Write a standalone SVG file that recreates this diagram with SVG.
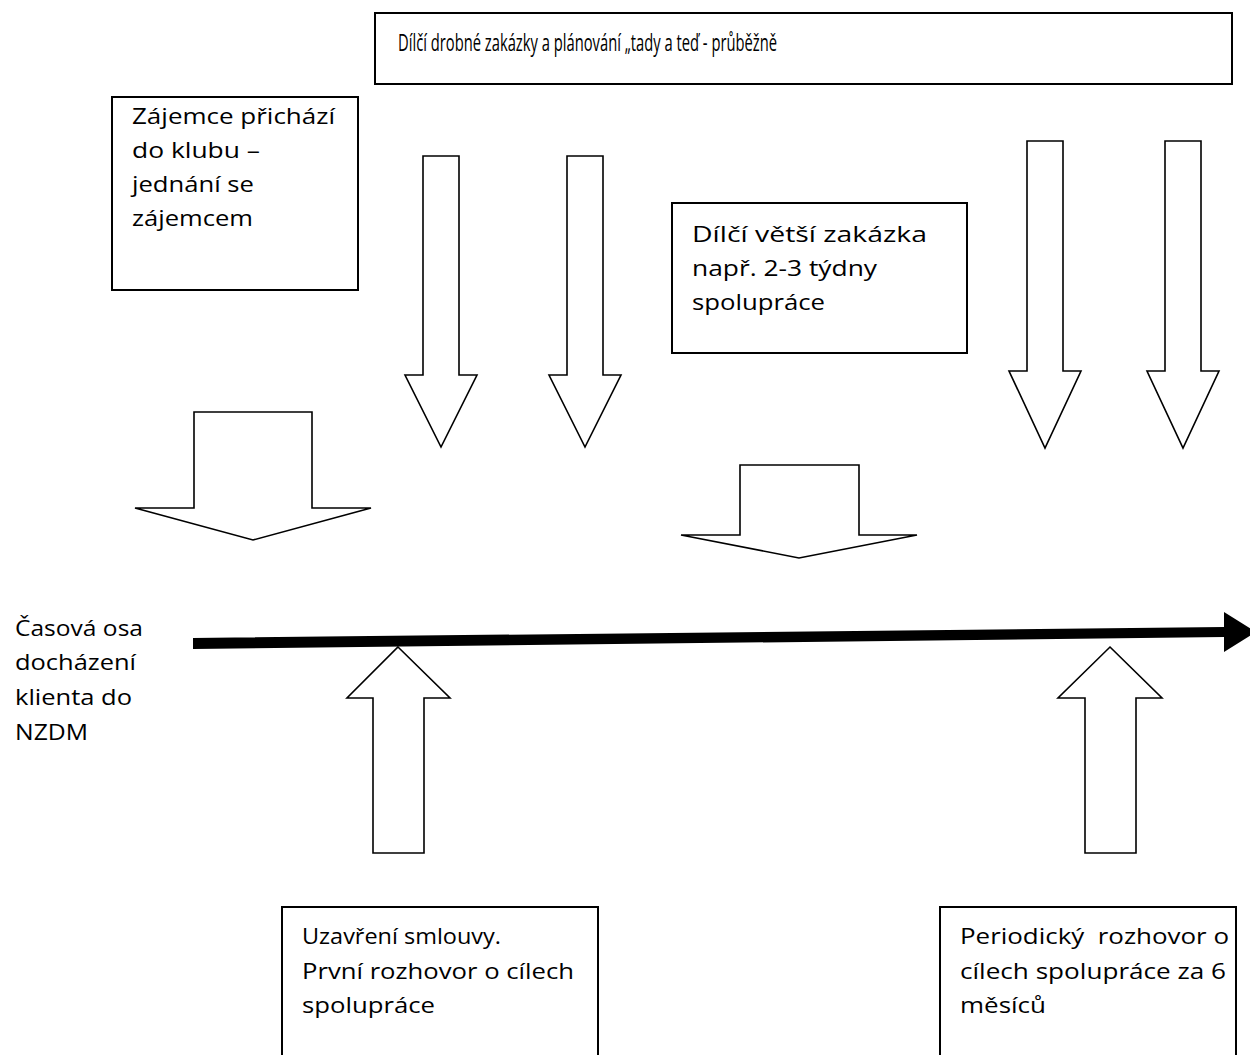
<svg xmlns="http://www.w3.org/2000/svg" width="1250" height="1055" viewBox="0 0 1250 1055">
  <style>
    .box { fill: #fff; stroke: #000; stroke-width: 2; }
    .blk { fill: #fff; stroke: #000; stroke-width: 1.6; stroke-linejoin: miter; }
    .t { font-family: "Open Sans", Lato, "Liberation Sans", sans-serif; font-size: 21px; fill: #000; }
    .top { font-size: 23px; }
  </style>
  <rect width="1250" height="1055" fill="#fff"/>

  <!-- text boxes -->
  <g id="box-ongoing">
    <rect class="box" x="375" y="13" width="857" height="71"/>
    <text class="t top" x="398" y="51" textLength="379" lengthAdjust="spacingAndGlyphs">Dílčí drobné zakázky a plánování „tady a teď - průběžně</text>
  </g>
  <g id="box-applicant">
    <rect class="box" x="112" y="97" width="246" height="193"/>
    <text class="t" x="132" y="124" textLength="203" lengthAdjust="spacingAndGlyphs">Zájemce přichází</text>
    <text class="t" x="132" y="158" textLength="128" lengthAdjust="spacingAndGlyphs">do klubu –</text>
    <text class="t" x="132" y="192" textLength="122" lengthAdjust="spacingAndGlyphs">jednání se</text>
    <text class="t" x="132" y="226" textLength="121" lengthAdjust="spacingAndGlyphs">zájemcem</text>
  </g>
  <g id="box-larger">
    <rect class="box" x="672" y="203" width="295" height="150"/>
    <text class="t" x="692" y="242" textLength="235" lengthAdjust="spacingAndGlyphs">Dílčí větší zakázka</text>
    <text class="t" x="692" y="276" textLength="185" lengthAdjust="spacingAndGlyphs">např. 2-3 týdny</text>
    <text class="t" x="692" y="310" textLength="133" lengthAdjust="spacingAndGlyphs">spolupráce</text>
  </g>
  <g id="box-contract">
    <rect class="box" x="282" y="907" width="316" height="160"/>
    <text class="t" x="302" y="944" textLength="199" lengthAdjust="spacingAndGlyphs">Uzavření smlouvy.</text>
    <text class="t" x="302" y="979" textLength="272" lengthAdjust="spacingAndGlyphs">První rozhovor o cílech</text>
    <text class="t" x="302" y="1013" textLength="133" lengthAdjust="spacingAndGlyphs">spolupráce</text>
  </g>
  <g id="box-periodic">
    <rect class="box" x="940" y="907" width="296" height="160"/>
    <text class="t" x="960" y="944" textLength="269" lengthAdjust="spacingAndGlyphs" xml:space="preserve">Periodický  rozhovor o</text>
    <text class="t" x="960" y="979" textLength="266" lengthAdjust="spacingAndGlyphs">cílech spolupráce za 6</text>
    <text class="t" x="960" y="1013" textLength="86" lengthAdjust="spacingAndGlyphs">měsíců</text>
  </g>
  <g id="axis-label">
    <text class="t" x="15" y="636" textLength="128" lengthAdjust="spacingAndGlyphs">Časová osa</text>
    <text class="t" x="15" y="670" textLength="121" lengthAdjust="spacingAndGlyphs">docházení</text>
    <text class="t" x="15" y="705" textLength="117" lengthAdjust="spacingAndGlyphs">klienta do</text>
    <text class="t" x="15" y="740" textLength="73" lengthAdjust="spacingAndGlyphs">NZDM</text>
  </g>

  <!-- block arrows and the time axis -->
  <g id="connectors">
    <!-- narrow down arrows -->
    <polygon class="blk" points="423,156 459,156 459,375 477,375 441,447 405,375 423,375"/>
    <polygon class="blk" points="567,156 603,156 603,375 621,375 585,447 549,375 567,375"/>
    <polygon class="blk" points="1027,141 1063,141 1063,371 1081,371 1045,448 1009,371 1027,371"/>
    <polygon class="blk" points="1165,141 1201,141 1201,371 1219,371 1183,448 1147,371 1165,371"/>
    <!-- wide down arrows -->
    <polygon class="blk" points="194,412 312,412 312,508 371,508 253,540 135,508 194,508"/>
    <polygon class="blk" points="740,465 859,465 859,535 917,535 799,558 681,535 740,535"/>
    <!-- up arrows -->
    <polygon class="blk" points="398,647 450,698 424,698 424,853 373,853 373,698 347,698"/>
    <polygon class="blk" points="1110,647 1162,698 1136,698 1136,853 1085,853 1085,698 1058,698"/>
    <!-- time axis -->
    <polygon fill="#000" points="193,638 1224,627 1224,612 1256,632 1224,652 1224,637 193,649"/>
  </g>
</svg>
